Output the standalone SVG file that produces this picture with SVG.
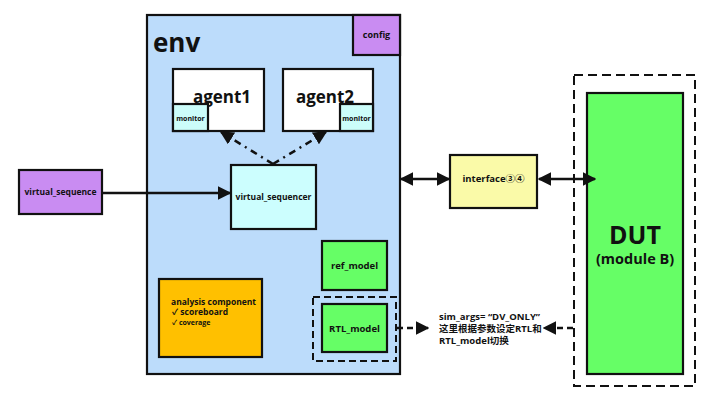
<svg xmlns="http://www.w3.org/2000/svg" width="715" height="405" viewBox="0 0 715 405">
<defs>
<style>
.b{stroke:#111;stroke-width:2.2}
.t{font-family:"Open Sans","Noto Sans","Noto Sans CJK SC",sans-serif;font-weight:bold;fill:#111;text-anchor:middle}
.ln{stroke:#111;stroke-width:2.5;fill:none}
</style>
<marker id="ah" viewBox="0 0 10 10" refX="9" refY="5" markerWidth="5.5" markerHeight="5.5" orient="auto-start-reverse"><path d="M0,0L10,5L0,10z" fill="#111"/></marker>
</defs>
<rect width="715" height="405" fill="#fff"/>
<g id="env">
<rect x="147" y="15" width="253" height="359" fill="#bcdcfb" class="b"/>
<text x="153" y="52" class="t" style="text-anchor:start;font-size:26px">env</text>
</g>
<g id="config"><rect x="353" y="15" width="47" height="40" fill="#c98cf2" class="b"/><text x="376.5" y="38" class="t" font-size="9">config</text></g>
<g id="agent1"><rect x="173" y="69" width="91" height="62" fill="#fff" class="b"/><text x="222" y="103" class="t" font-size="17">agent1</text>
<rect x="173" y="104" width="35" height="27" fill="#ccfdfa" class="b"/><text x="190.5" y="121" class="t" font-size="7">monitor</text></g>
<g id="agent2"><rect x="283" y="69" width="90" height="62" fill="#fff" class="b"/><text x="325" y="103" class="t" font-size="17">agent2</text>
<rect x="340" y="104" width="33" height="27" fill="#ccfdfa" class="b"/><text x="356.5" y="121" class="t" font-size="7">monitor</text></g>
<g id="virtual_sequencer"><rect x="231" y="165" width="85" height="64" fill="#ccfefe" class="b"/><text x="273.5" y="200" class="t" font-size="8.5">virtual_sequencer</text></g>
<g id="ref_model"><rect x="322" y="241" width="65" height="49" fill="#66fe66" class="b"/><text x="354.5" y="269" class="t" font-size="9.5">ref_model</text></g>
<g id="RTL_model"><rect x="313" y="297" width="83" height="64" fill="none" stroke="#111" stroke-width="2" stroke-dasharray="7,4"/><rect x="322" y="304" width="65" height="48" fill="#66fe66" class="b"/><text x="354.5" y="332" class="t" font-size="9.5">RTL_model</text></g>
<g id="analysis"><rect x="159" y="279" width="103" height="78" fill="#ffc000" class="b"/>
<text x="171" y="305" class="t" style="text-anchor:start" font-size="8.5">analysis component</text>
<text x="172" y="315" class="t" style="text-anchor:start" font-size="8.5">✓ scoreboard</text>
<text x="172" y="325" class="t" style="text-anchor:start" font-size="7">✓ coverage</text></g>
<g id="virtual_sequence"><rect x="19" y="170" width="83" height="44" fill="#c98cf2" class="b"/><text x="60.5" y="195" class="t" font-size="8.5">virtual_sequence</text></g>
<g id="interface"><rect x="450" y="155" width="87" height="53" fill="#fafaa8" class="b"/><text x="493.5" y="182" class="t" font-size="9.5">interface③④</text></g>
<g id="DUT"><rect x="574" y="75" width="121" height="311" fill="none" stroke="#111" stroke-width="2" stroke-dasharray="9,5"/>
<rect x="587" y="93" width="96" height="281" fill="#66fe66" class="b"/>
<text x="635" y="244" class="t" font-size="25">DUT</text><text x="635" y="264" class="t" font-size="14.5">(module B)</text></g>
<g id="note"><text class="t" style="text-anchor:start" font-size="9.5"><tspan x="439" y="320">sim_args= “DV_ONLY”</tspan><tspan x="439" y="332">这里根据参数设定RTL和</tspan><tspan x="439" y="344">RTL_model切换</tspan></text></g>
<g id="connectors">
<line x1="102" y1="193" x2="230" y2="193" class="ln" marker-end="url(#ah)"/>
<line x1="273" y1="164" x2="221" y2="132" class="ln" stroke-dasharray="7,5,2,5" marker-end="url(#ah)"/>
<line x1="273" y1="164" x2="326" y2="132" class="ln" stroke-dasharray="7,5,2,5" marker-end="url(#ah)"/>
<line x1="401" y1="179" x2="449" y2="179" class="ln" marker-start="url(#ah)" marker-end="url(#ah)"/>
<line x1="539" y1="179" x2="595" y2="179" class="ln" marker-start="url(#ah)" marker-end="url(#ah)"/>
<line x1="397" y1="328" x2="428" y2="328" class="ln" stroke-dasharray="6,4" marker-end="url(#ah)"/>
<line x1="573" y1="328" x2="544" y2="328" class="ln" stroke-dasharray="6,4" marker-end="url(#ah)"/>
</g>
</svg>
